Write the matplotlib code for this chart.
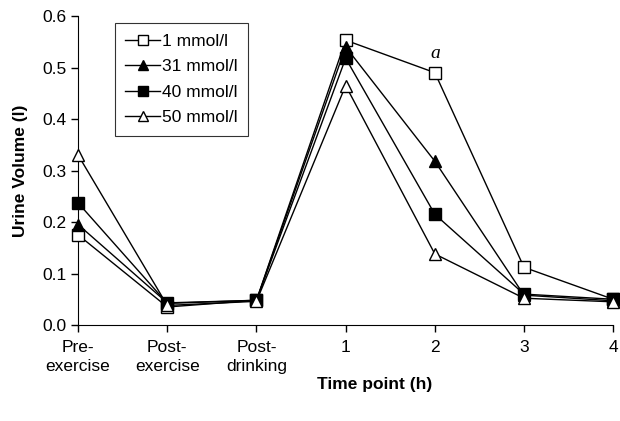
import numpy as np
import matplotlib.pyplot as plt

plt.rcParams['font.family'] = ['Liberation Sans', 'DejaVu Sans']

# data
time_labels = ["Pre-\nexercise", "Post-\nexercise", "Post-\ndrinking", "1", "2", "3", "4"]
conc_1 = [0.175, 0.035, 0.048, 0.553, 0.490, 0.112, 0.050]
conc_31 = [0.195, 0.043, 0.048, 0.540, 0.318, 0.058, 0.047]
conc_40 = [0.237, 0.042, 0.048, 0.518, 0.215, 0.060, 0.050]
conc_50 = [0.330, 0.038, 0.046, 0.465, 0.138, 0.052, 0.045]

x = np.arange(len(time_labels))

fig = plt.figure(figsize=(6.2, 4.21), dpi=100)
ax = fig.add_axes([0.126, 0.228, 0.863, 0.734])

styles = [
    (conc_1, 's', 'white', '1 mmol/l'),
    (conc_31, '^', 'black', '31 mmol/l'),
    (conc_40, 's', 'black', '40 mmol/l'),
    (conc_50, '^', 'white', '50 mmol/l'),
]
for vals, mk, fc, lab in styles:
    ax.plot(x, vals, color='black', lw=1, marker=mk, ms=9 if mk == '^' else 8,
            mfc=fc, mec='black', label=lab, clip_on=False, zorder=3)

# significance mark above the 2 h point
ax.text(x[4], conc_1[4] + 0.028, 'a', family='Liberation Serif', style='italic', fontsize=14, ha='center')

ax.set_xlim(0, 6)
ax.set_ylim(0, 0.6)
ax.set_yticks(np.arange(0, 0.61, 0.1))
ax.set_yticklabels(["%.1f" % v for v in np.arange(0, 0.61, 0.1)])
ax.set_xticks(x)
ax.set_xticklabels(time_labels, linespacing=1.3)
ax.tick_params(labelsize=12.5, direction='out', length=5, width=1)
ax.tick_params(axis='x', pad=6)

ax.spines['top'].set_visible(False)
ax.spines['right'].set_visible(False)

ax.set_ylabel("Urine Volume (l)", fontsize=12.5, fontweight='bold', labelpad=10)
fig.text(0.605, 0.075, "Time point (h)", fontsize=12.5, fontweight='bold', ha='center')

leg = ax.legend(loc='upper left', bbox_to_anchor=(0.069, 0.977), fontsize=12.5, frameon=True,
                fancybox=False, edgecolor='black', handlelength=2.0, labelspacing=0.6,
                handletextpad=0.1, borderpad=0.6, borderaxespad=0, markerscale=0.85)
leg.get_frame().set_linewidth(0.8)

plt.savefig("out.png", dpi=100)
